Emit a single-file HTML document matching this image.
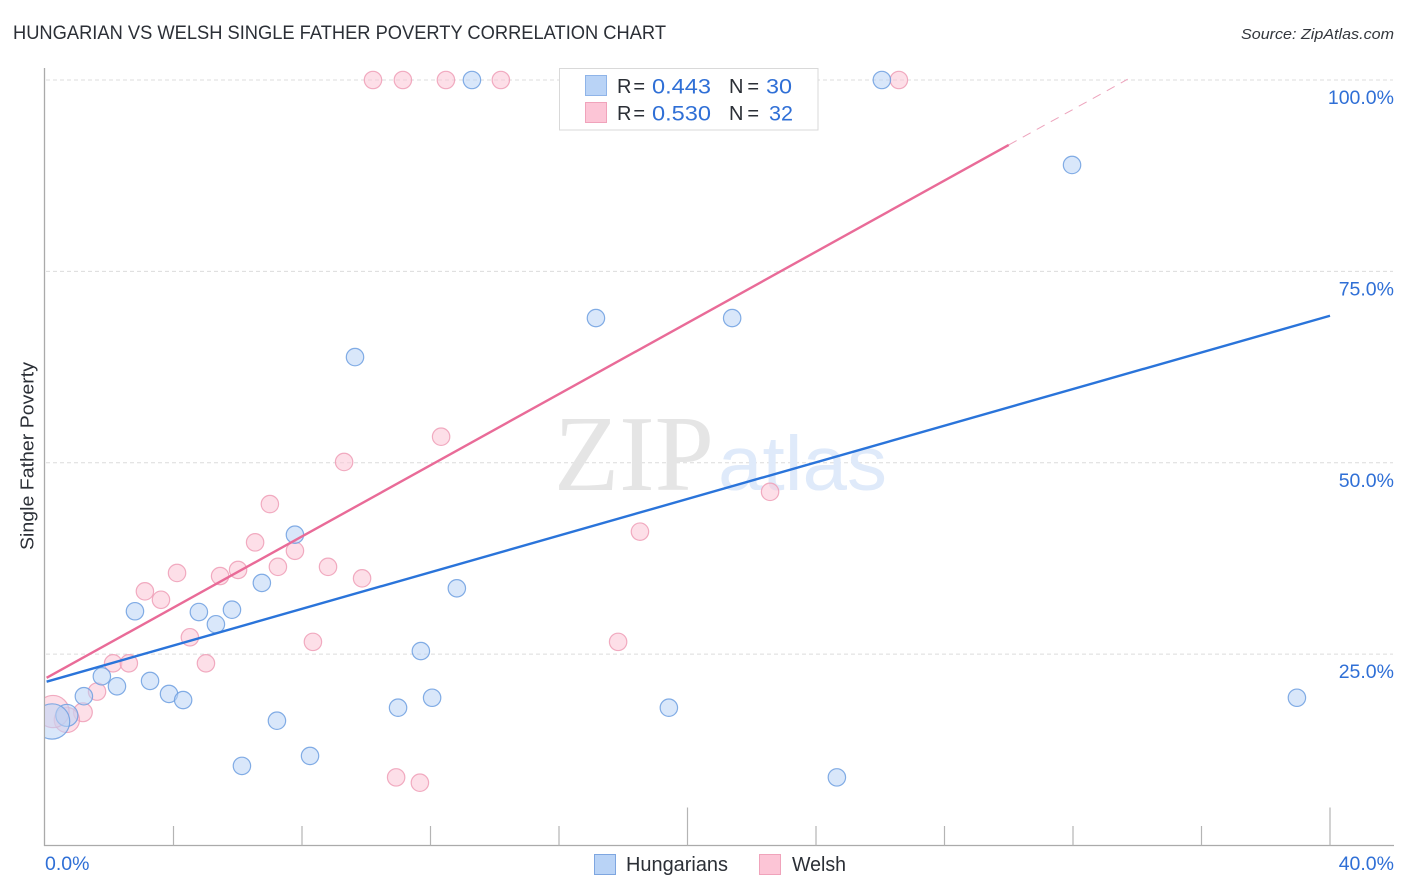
<!DOCTYPE html>
<html lang="en">
<head>
<meta charset="utf-8">
<title>Hungarian vs Welsh Single Father Poverty Correlation Chart</title>
<style>
html,body{margin:0;padding:0;background:#fff;width:1406px;height:892px;overflow:hidden}
svg{display:block;font-family:"Liberation Sans",sans-serif}
</style>
</head>
<body>
<svg id="chart" width="1406" height="892" viewBox="0 0 1406 892" xmlns="http://www.w3.org/2000/svg">
  <defs>
    <clipPath id="plot-clip"><rect x="45" y="60" width="1350" height="786"/></clipPath>
  </defs>
  <text x="13" y="39" font-size="19" fill="#2b2f36" textLength="653" lengthAdjust="spacingAndGlyphs">HUNGARIAN VS WELSH SINGLE FATHER POVERTY CORRELATION CHART</text>
  <text x="1241" y="39" font-size="15" font-style="italic" fill="#33373d" textLength="153" lengthAdjust="spacingAndGlyphs">Source: ZipAtlas.com</text>
  <text transform="translate(33.5 550) rotate(-90)" font-size="18.5" fill="#2b2f36" textLength="188" lengthAdjust="spacingAndGlyphs">Single Father Poverty</text>
  <g id="grid"></g>
  <g>
    <text x="554" y="490" font-family="'Liberation Serif',serif" font-size="108" fill="#e5e5e5" textLength="160" lengthAdjust="spacingAndGlyphs">ZIP</text>
    <text x="718" y="490" font-size="77" fill="#dfeafa" textLength="169" lengthAdjust="spacingAndGlyphs">atlas</text>
  </g>
  <g id="axes"></g>
  <g id="points" clip-path="url(#plot-clip)"></g>
  <g id="trends"></g>
  <g id="ylabels"></g>
  <g id="xlabels"></g>

  <g>
    <rect x="559.5" y="68.5" width="258.5" height="61.5" fill="#fff" stroke="#d9d9d9" stroke-width="1"/>
    <rect x="585.5" y="75.5" width="21" height="20" fill="#b9d3f6" stroke="#8fb4e8"/>
    <rect x="585.5" y="102.5" width="21" height="20" fill="#fcc5d6" stroke="#f0a3bb"/>
    <g font-size="20" fill="#2b2f36">
      <text x="617" y="93" textLength="28" lengthAdjust="spacing">R =</text>
      <text x="729" y="93" textLength="30" lengthAdjust="spacing">N =</text>
      <text x="617" y="120" textLength="28" lengthAdjust="spacing">R =</text>
      <text x="729" y="120" textLength="30" lengthAdjust="spacing">N =</text>
    </g>
    <g font-size="21" fill="#2f6fd6">
      <text x="652" y="93.5" textLength="59" lengthAdjust="spacingAndGlyphs">0.443</text>
      <text x="766" y="93.5" textLength="26" lengthAdjust="spacingAndGlyphs">30</text>
      <text x="652" y="120.5" textLength="59" lengthAdjust="spacingAndGlyphs">0.530</text>
      <text x="769" y="120.5" textLength="24" lengthAdjust="spacingAndGlyphs">32</text>
    </g>
  </g>

  <g>
    <rect x="594.5" y="854.5" width="21" height="20" fill="#b9d3f6" stroke="#7ea6e0"/>
    <text x="626" y="871" font-size="20" fill="#2b2f36" textLength="102" lengthAdjust="spacingAndGlyphs">Hungarians</text>
    <rect x="759.5" y="854.5" width="21" height="20" fill="#fcc5d6" stroke="#f0a3bb"/>
    <text x="792" y="871" font-size="20" fill="#2b2f36" textLength="54" lengthAdjust="spacingAndGlyphs">Welsh</text>
  </g>
</svg>
<script>
const hungarianX = [13.29,26.05,31.97,17.15,21.39,9.65,7.78,6.75,12.82,2.80,4.79,5.82,5.32,11.70,1.77,2.24,3.27,1.21,3.86,4.30,12.05,10.99,19.42,38.97,7.22,6.13,8.25,24.65,0.68,0.22];
const hungarianY = [100,100,88.9,68.9,68.9,63.8,40.6,34.3,33.6,30.6,30.5,30.8,28.9,25.4,22.1,20.8,21.5,19.5,19.8,19.0,19.3,18.0,18.0,19.3,16.3,10.4,11.7,8.9,17.0,16.2];
const hungarianWeight = [1,1,1,1,1,1,1,1,1,1,1,1,1,1,1,1,1,1,1,1,1,1,1,1,1,1,1,1,1.27,2.03];
const welshX = [10.21,11.14,12.48,14.19,26.58,12.33,9.31,22.57,7.00,18.52,6.54,7.78,6.01,7.25,8.81,4.11,5.45,9.87,3.11,3.61,4.51,8.34,17.84,5.01,2.12,2.61,1.62,1.18,0.68,0.25,10.93,11.67];
const welshY = [100,100,100,100,100,53.4,50.1,46.2,44.6,41.0,39.6,38.5,36.0,36.4,36.4,35.6,35.2,34.9,33.2,32.1,27.2,26.6,26.6,23.8,23.8,23.8,20.1,17.4,16.4,17.5,8.9,8.2];
const welshWeight = [1,1,1,1,1,1,1,1,1,1,1,1,1,1,1,1,1,1,1,1,1,1,1,1,1,1,1,1.08,1.45,1.85,1,1];
const hungarianTrend = [21.4, 69.2];
const welshTrend = [21.9, 100.1];
const trendDomain = [0, 40];
const welshTrendEnds = [30, 33.7];
const yTicks = [25, 50, 75, 100];
const yTickLabels = ["25.0%", "50.0%", "75.0%", "100.0%"];
const xTicks = [4, 8, 12, 16, 20, 24, 28, 32, 36, 40];
const xMajorTicks = [20, 40];
const xEndLabels = ["0.0%", "40.0%"];

const NS = "http://www.w3.org/2000/svg";
const xScale = v => 45 + v * 32.125;
const yScale = v => 845.5 - v * 7.655;
function make(tag, parent, attrs) {
  const el = document.createElementNS(NS, tag);
  for (const k in attrs) el.setAttribute(k, attrs[k]);
  parent.appendChild(el);
  return el;
}
const grid = document.getElementById("grid");
const axes = document.getElementById("axes");
const points = document.getElementById("points");
const trends = document.getElementById("trends");
const ylabels = document.getElementById("ylabels");
const xlabels = document.getElementById("xlabels");

yTicks.forEach((t, i) => {
  const line = make("line", grid, {x1: 46, x2: 1393, y1: yScale(t), y2: yScale(t), stroke: "#dcdcdc", "stroke-width": 1, "stroke-dasharray": "4 3"});
  
  
  const label = make("text", ylabels, {x: 1394, y: yScale(t) + 24, "text-anchor": "end", "font-size": 19.5, fill: "#2f6fd6"});
  label.textContent = yTickLabels[i];
  
  
});

const yAxis = make("line", axes, {x1: 44.5, x2: 44.5, y1: 68, y2: 846, stroke: "#aaaaaa", "stroke-width": 1.3});


const xAxis = make("line", axes, {x1: 44, x2: 1394, y1: 845.5, y2: 845.5, stroke: "#aaaaaa", "stroke-width": 1.3});


xTicks.forEach(t => {
  const top = xMajorTicks.includes(t) ? 807.5 : 826;
  const tick = make("line", axes, {x1: xScale(t), x2: xScale(t), y1: top, y2: 845.5, stroke: "#b4b4b4", "stroke-width": 1.2});
  
  
});

const xLabelLeft = make("text", xlabels, {x: 45, y: 870, "font-size": 19.5, fill: "#2f6fd6"});
xLabelLeft.textContent = xEndLabels[0];


const xLabelRight = make("text", xlabels, {x: 1394, y: 870, "text-anchor": "end", "font-size": 19.5, fill: "#2f6fd6"});
xLabelRight.textContent = xEndLabels[1];



welshX.forEach((x, i) => {
  const c = make("circle", points, {cx: xScale(x), cy: yScale(welshY[i]), r: 8.7 * welshWeight[i], fill: "#fcc5d6", "fill-opacity": 0.55, stroke: "#ee9db6", "stroke-opacity": 0.85, "stroke-width": 1.2});
  
  
});
hungarianX.forEach((x, i) => {
  const c = make("circle", points, {cx: xScale(x), cy: yScale(hungarianY[i]), r: 8.7 * hungarianWeight[i], fill: "#b9d3f6", "fill-opacity": 0.55, stroke: "#6d9fe0", "stroke-opacity": 0.85, "stroke-width": 1.2});
  
  
});

const trendAt = (ends, v) => ends[0] + (ends[1] - ends[0]) * v / welshTrendEnds[1];
const hLine = make("line", trends, {
  x1: xScale(0.05), y1: yScale(hungarianTrend[0]),
  x2: xScale(trendDomain[1]), y2: yScale(hungarianTrend[1]),
  stroke: "#2a74da", "stroke-width": 2.4
});


const wLine = make("line", trends, {
  x1: xScale(0.05), y1: yScale(welshTrend[0]),
  x2: xScale(welshTrendEnds[0]), y2: yScale(trendAt(welshTrend, welshTrendEnds[0])),
  stroke: "#e96b98", "stroke-width": 2.4
});


const wDash = make("line", trends, {
  x1: xScale(welshTrendEnds[0]), y1: yScale(trendAt(welshTrend, welshTrendEnds[0])),
  x2: xScale(welshTrendEnds[1]), y2: yScale(welshTrend[1]),
  stroke: "#eda3bc", "stroke-width": 1, "stroke-dasharray": "9 7"
});


</script>
</body>
</html>
